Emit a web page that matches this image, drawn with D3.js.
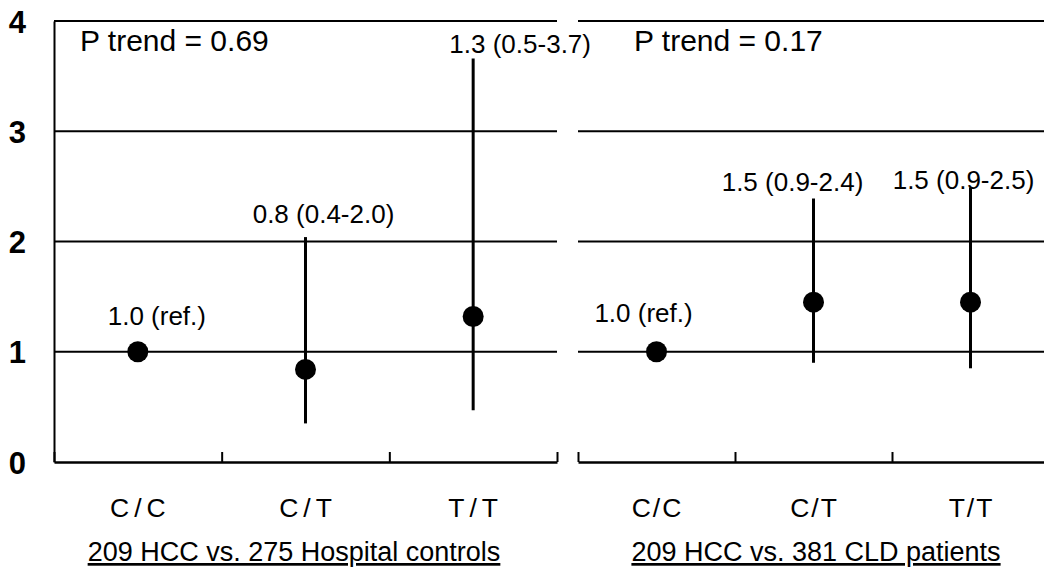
<!DOCTYPE html>
<html><head><meta charset="utf-8">
<script src="https://cdn.jsdelivr.net/npm/d3@7"></script>
<style>
html,body{margin:0;padding:0;background:#fff;}
svg{display:block;font-family:"Liberation Sans",Arial,Helvetica,sans-serif;}
</style></head>
<body><svg id="chart" width="1044" height="570"></svg>
<script>
// ---- data ----
const categories = ["C/C", "C/T", "T/T"];
const panelTitles = ["209 HCC vs. 275 Hospital controls", "209 HCC vs. 381 CLD patients"];
const pTrendLabels = ["P trend = 0.69", "P trend = 0.17"];
const orHospital = [1.0, 0.84, 1.32];
const lowHospital = [null, 0.35, 0.47];
const highHospital = [null, 2.04, 3.66];
const labelHospital = ["1.0 (ref.)", "0.8 (0.4-2.0)", "1.3 (0.5-3.7)"];
const orCLD = [1.0, 1.45, 1.45];
const lowCLD = [null, 0.90, 0.85];
const highCLD = [null, 2.39, 2.49];
const labelCLD = ["1.0 (ref.)", "1.5 (0.9-2.4)", "1.5 (0.9-2.5)"];
const yTickValues = [0, 1, 2, 3, 4];

// ---- layout (styling only) ----
const y = d3.scaleLinear().domain([0, 4]).range([462, 21]);
const panelsLayout = [
  {range: [54, 557], letterSpacing: 5, titleX: 294, pX: 80,
   labelNudge: [[19, -27], [18, -14], [47, -5]], yAxis: true},
  {range: [578, 1049], letterSpacing: 2, titleX: 816, pX: 634,
   labelNudge: [[-13, -30], [-21, -8], [-7, 2]], yAxis: false}
];
const panelData = [
  {or: orHospital, low: lowHospital, high: highHospital, lab: labelHospital},
  {or: orCLD, low: lowCLD, high: highCLD, lab: labelCLD}
];

const svg = d3.select("#chart");

panelsLayout.forEach((L, pi) => {
  const D = panelData[pi];
  const x = d3.scaleBand().domain(categories).range(L.range).padding(0);
  const xb = d3.scaleLinear().domain([0, categories.length]).range(L.range);
  const g = svg.append("g");

  // gridlines
  g.selectAll("line.grid").data(yTickValues.filter(v => v > 0)).join("line")
    .attr("x1", L.range[0]).attr("x2", Math.min(L.range[1], 1044))
    .attr("y1", d => y(d)).attr("y2", d => y(d))
    .attr("stroke", "#000").attr("stroke-width", 2);

  // bottom axis: ticks at band boundaries pointing up
  const xAxis = d3.axisBottom(xb).tickValues(d3.range(categories.length + 1))
    .tickSize(-10).tickSizeOuter(0).tickFormat("");
  const ax = g.append("g").attr("transform", `translate(0,${y(0)})`).call(xAxis);
  ax.select(".domain").attr("stroke", "#000").attr("stroke-width", 2.5);
  ax.selectAll(".tick line").attr("stroke", "#000").attr("stroke-width", 2);

  // category labels
  g.selectAll("text.cat").data(categories).join("text")
    .attr("x", d => x(d) + x.bandwidth() / 2 + L.letterSpacing / 2)
    .attr("y", 517).attr("text-anchor", "middle")
    .attr("font-size", 26.5).attr("letter-spacing", L.letterSpacing)
    .text(d => d);

  // panel title underlined
  g.append("text").attr("x", L.titleX).attr("y", 561).attr("text-anchor", "middle")
    .attr("font-size", 27).style("text-decoration", "underline")
    .text(panelTitles[pi]);

  // p trend
  g.append("text").attr("x", L.pX).attr("y", 51).attr("font-size", 30)
    .text(pTrendLabels[pi]);

  // left y-axis
  if (L.yAxis) {
    const yAxis = d3.axisLeft(y).tickValues(yTickValues).tickSize(0).tickPadding(28)
      .tickFormat(d3.format("d"));
    const ay = g.append("g").attr("transform", `translate(${L.range[0]},0)`).call(yAxis);
    ay.select(".domain").attr("stroke", "#000").attr("stroke-width", 2);
    ay.selectAll(".tick text").attr("font-size", 31).attr("font-weight", "bold")
      .attr("font-family", "'Liberation Sans',Arial,sans-serif").attr("fill", "#000")
      .attr("dy", "0.36em");
  }

  const idx = d3.range(categories.length);
  // error bars
  g.selectAll("line.err").data(idx.filter(i => D.low[i] != null)).join("line")
    .attr("x1", i => x(categories[i]) + x.bandwidth() / 2)
    .attr("x2", i => x(categories[i]) + x.bandwidth() / 2)
    .attr("y1", i => y(D.low[i])).attr("y2", i => y(D.high[i]))
    .attr("stroke", "#000").attr("stroke-width", 3);
  // dots
  g.selectAll("circle.pt").data(idx).join("circle")
    .attr("cx", i => x(categories[i]) + x.bandwidth() / 2)
    .attr("cy", i => y(D.or[i])).attr("r", 10.5).attr("fill", "#000");
  // labels
  g.selectAll("text.lab").data(idx).join("text")
    .attr("x", i => x(categories[i]) + x.bandwidth() / 2 + L.labelNudge[i][0])
    .attr("y", i => y(D.high[i] != null ? D.high[i] : D.or[i]) + L.labelNudge[i][1])
    .attr("text-anchor", "middle").attr("font-size", 26)
    .text(i => D.lab[i]);
});
</script></body></html>
